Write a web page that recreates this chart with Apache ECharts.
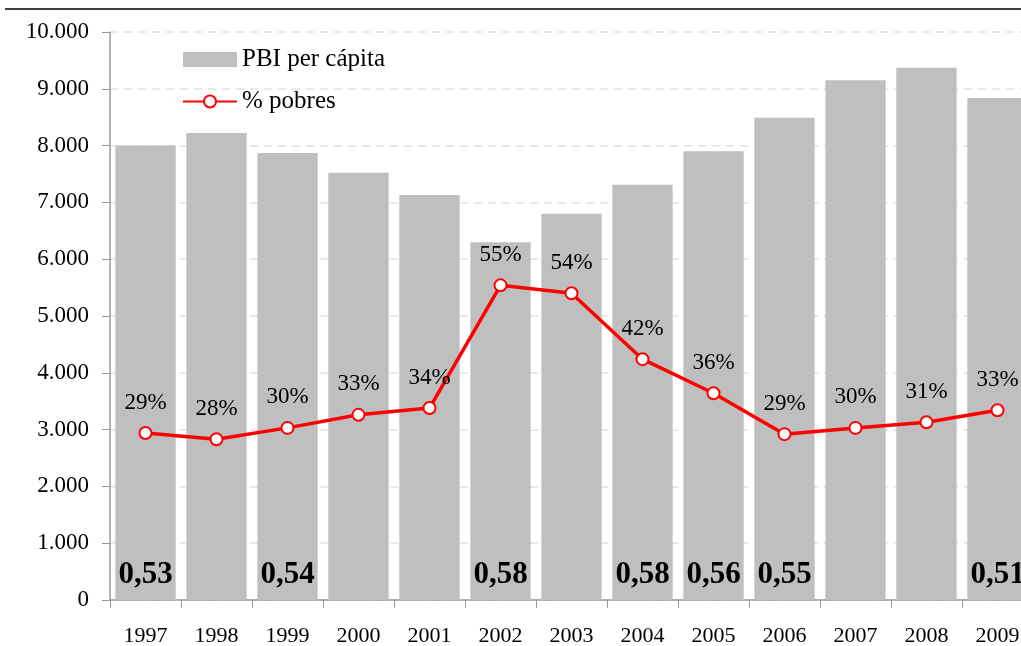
<!DOCTYPE html>
<html lang="es" style="height: 100%">
<head>
  <meta charset="utf-8">
</head>
<body style="height: 100%; margin: 0; background: #fff">
  <div id="container" style="width: 1021px; height: 646px"></div>

  <script type="text/javascript" src="https://fastly.jsdelivr.net/npm/echarts@6/dist/echarts.min.js"></script>
  <script type="text/javascript">
    var years = ['1997', '1998', '1999', '2000', '2001', '2002', '2003', '2004', '2005', '2006', '2007', '2008', '2009'];
    var pbiPerCapita = [8000, 8220, 7870, 7520, 7130, 6300, 6800, 7310, 7900, 8490, 9150, 9370, 8840];
    var pobres = [29.4, 28.3, 30.3, 32.6, 33.8, 55.4, 54.0, 42.4, 36.4, 29.2, 30.3, 31.3, 33.4];
    var gini = ['0,53', null, '0,54', null, null, '0,58', null, '0,58', '0,56', '0,55', null, null, '0,51'];

    var font = 'Liberation Serif';
    var dom = document.getElementById('container');
    var myChart = echarts.init(dom, null, { renderer: 'canvas' });

    var option = {
      backgroundColor: '#fff',
      textStyle: { fontFamily: font },
      animation: false,
      graphic: [
        {
          type: 'line',
          shape: { x1: 5, y1: 9, x2: 1021, y2: 9 },
          style: { stroke: '#000', lineWidth: 1.5 }
        }
      ],
      legend: {
        orient: 'vertical',
        left: 177,
        top: 42,
        itemGap: 17,
        itemWidth: 54,
        itemHeight: 15,
        textStyle: { fontFamily: font, fontSize: 25, color: '#000' },
        data: [
          { name: 'PBI per cápita', icon: 'rect' },
          { name: '% pobres' }
        ]
      },
      grid: {
        left: 110,
        top: 32,
        width: 923,
        bottom: 46,
        outerBoundsMode: 'none',
        containLabel: false
      },
      xAxis: {
        type: 'category',
        data: years,
        axisLine: { lineStyle: { color: '#999', width: 1.5 } },
        axisTick: { show: true, length: 8, lineStyle: { color: '#999' } },
        axisLabel: { fontFamily: font, fontSize: 22, color: '#000', margin: 25 }
      },
      yAxis: [
        {
          type: 'value',
          min: 0,
          max: 10000,
          interval: 1000,
          axisLine: { show: true, lineStyle: { color: '#999', width: 1.5 } },
          axisTick: { show: true, length: 8, lineStyle: { color: '#999' } },
          axisLabel: {
            fontFamily: font,
            fontSize: 23,
            color: '#000',
            margin: 21,
            formatter: function (v) {
              return String(v).replace(/\B(?=(\d{3})+(?!\d))/g, '.');
            }
          },
          splitLine: { lineStyle: { color: '#e2e2e2', type: [8, 6], width: 1.5 } }
        },
        {
          type: 'value',
          min: 0,
          max: 100,
          show: false,
          splitLine: { show: false }
        }
      ],
      series: [
        {
          name: 'PBI per cápita',
          type: 'bar',
          data: pbiPerCapita,
          barCategoryGap: '15%',
          itemStyle: { color: '#bfbfbf' },
          label: {
            show: true,
            position: 'insideBottom',
            distance: 10,
            fontFamily: font,
            fontSize: 31,
            fontWeight: 'bold',
            color: '#000',
            formatter: function (p) {
              return gini[p.dataIndex] || '';
            }
          },
          z: 1
        },
        {
          name: '% pobres',
          type: 'line',
          yAxisIndex: 1,
          data: pobres,
          symbol: 'circle',
          symbolSize: 12,
          showAllSymbol: true,
          lineStyle: { color: '#ff0000', width: 3.5 },
          itemStyle: { color: '#fff', borderColor: '#ff0000', borderWidth: 2 },
          label: {
            show: true,
            position: 'top',
            distance: 12,
            fontFamily: font,
            fontSize: 23,
            color: '#000',
            formatter: function (p) {
              return Math.round(p.value) + '%';
            }
          },
          z: 3
        }
      ]
    };

    myChart.setOption(option);
    window.addEventListener('resize', myChart.resize);
  </script>
</body>
</html>
